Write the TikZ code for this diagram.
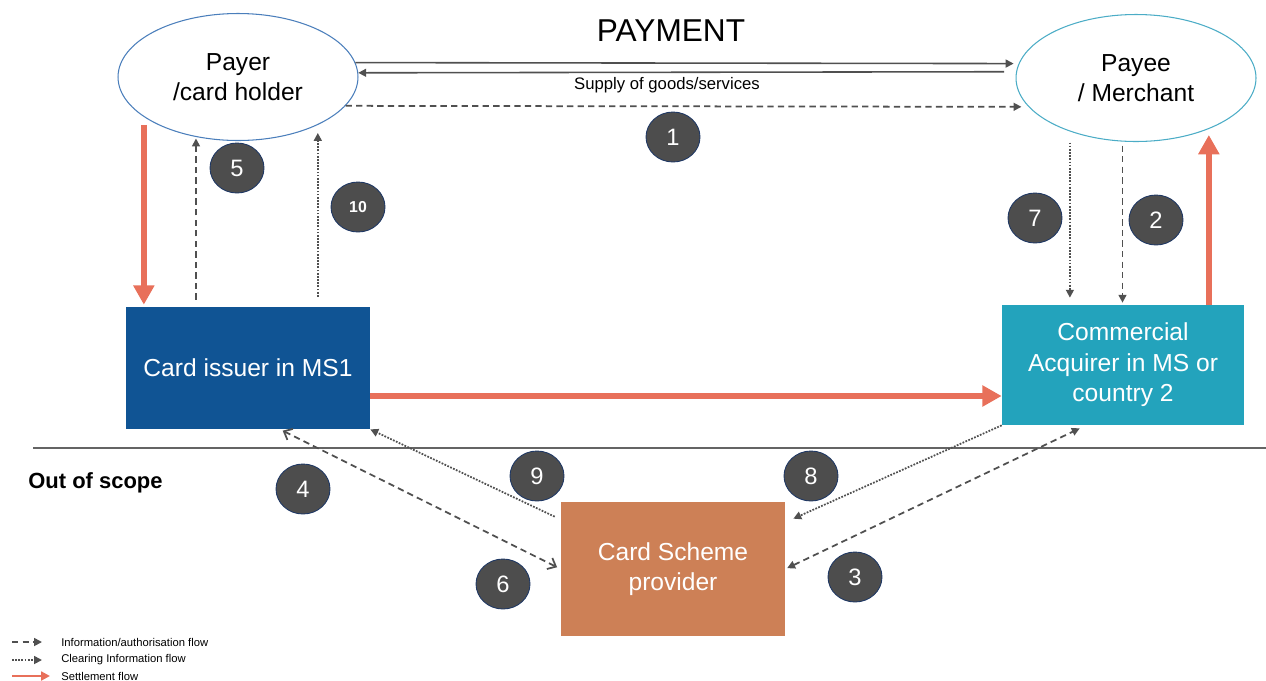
\documentclass[tikz,border=0pt]{standalone}
\usepackage{fontspec}
\setmainfont{Liberation Sans}
\usepackage{tikz}
\usetikzlibrary{shapes, arrows.meta, positioning}
\definecolor{payerblue}{RGB}{74,126,187}
\definecolor{payeecyan}{RGB}{75,172,198}
\definecolor{issuerblue}{RGB}{16,84,148}
\definecolor{acqcyan}{RGB}{35,163,188}
\definecolor{schemebrown}{RGB}{205,128,86}
\definecolor{settlered}{RGB}{232,112,90}
\definecolor{flowgrey}{RGB}{80,80,80}
\definecolor{stepgrey}{RGB}{77,77,77}
\definecolor{stepnavy}{RGB}{31,56,100}
\definecolor{sepgrey}{RGB}{100,100,100}
\tikzstyle{party} = [ellipse, draw, line width=0.6pt, minimum width=4.8cm, minimum height=2.54cm, inner sep=0pt, align=center, font=\fontsize{14}{17.4}\selectfont]
\tikzstyle{actor} = [rectangle, text=white, align=center, inner sep=0pt, font=\fontsize{14}{17.4}\selectfont]
\tikzstyle{stepnode} = [ellipse, fill=stepgrey, draw=stepnavy, line width=0.5pt, minimum width=1.08cm, minimum height=1cm, inner sep=0pt, text=white, font=\fontsize{13.5}{15}\selectfont]
\tikzstyle{legend} = [anchor=west, inner sep=0pt, font=\fontsize{6.4}{7.5}\selectfont]
\tikzstyle{pay} = [draw=flowgrey, line width=0.9pt, -{Triangle[length=4.5pt, width=4.5pt]}]
\tikzstyle{info} = [draw=flowgrey, line width=1pt, dash pattern=on 3.6pt off 2.4pt, -{Triangle[length=4.5pt, width=4.5pt]}]
\tikzstyle{clearing} = [draw=flowgrey, line width=1pt, dash pattern=on 1pt off 0.8pt, -{Triangle[length=4.5pt, width=4.5pt]}]
\tikzstyle{settle} = [draw=settlered, line width=3.8pt, -{Triangle[length=11pt, width=11.5pt]}]
\begin{document}
\begin{tikzpicture}[x=0.02cm, y=-0.02cm]
				\useasboundingbox (0,0) rectangle (1266,680);
				\node [party, draw=payerblue] (payer) at (238,77) {Payer\\/card holder};
				\node [party, draw=payeecyan] (payee) at (1136,78) {Payee\\/ Merchant};
				\node [font=\fontsize{18}{20}\selectfont] (title) at (671,31) {PAYMENT};
				\node [font=\fontsize{9.5}{11}\selectfont] (supply) at (667,85) {Supply of goods/services};
				\node [actor, fill=issuerblue, minimum width=4.88cm, minimum height=2.44cm] (issuer) at (248,368) {Card issuer in MS1};
				\node [actor, fill=acqcyan, minimum width=4.84cm, minimum height=2.4cm] (acquirer) at (1123,365) {Commercial\\Acquirer in MS or\\country 2};
				\node [actor, fill=schemebrown, minimum width=4.48cm, minimum height=2.68cm] (scheme) at (673,569) {Card Scheme\\provider};
				\node [anchor=west, inner sep=0pt, font=\bfseries\fontsize{12.5}{15}\selectfont] (scope) at (28,483) {Out of scope};
		
				\node [stepnode] (n1) at (673,137) {1};
				\node [stepnode] (n2) at (1156,220) {2};
				\node [stepnode] (n3) at (855,577) {3};
				\node [stepnode] (n4) at (303,489) {4};
				\node [stepnode] (n5) at (237,168) {5};
				\node [stepnode] (n6) at (503,584) {6};
				\node [stepnode] (n7) at (1035,218) {7};
				\node [stepnode] (n8) at (811,476) {8};
				\node [stepnode] (n9) at (537,476) {9};
				\node [stepnode, font=\bfseries\fontsize{9}{11}\selectfont] (n10) at (358,207) {10};
		
				\node [legend] (leg1) at (61,642) {Information/authorisation flow};
				\node [legend] (leg2) at (61,660) {Clearing Information flow};
				\node [legend] (leg3) at (61,676) {Settlement flow};
				\coordinate (l1) at (12,642);
				\coordinate (l2) at (12,660);
				\coordinate (l3) at (12,676);
		
				\draw [draw=sepgrey, line width=0.9pt] (33,448) -- (1266,448);
		
				\path [pay, shorten >=0.1cm] (payer.7) -- (payee.173);
				\path [pay, shorten <=0.24cm] (payee.177) -- (payer.2);
				\path [info, shorten >=0.14cm] (payer.-15) -- (payee.-165);
				\path [settle, shorten <=0.16cm, shorten >=0.04cm] (payer.203) -- (payer.203 |- issuer.north);
				\path [info, shorten <=0.14cm, shorten >=0.03cm] (payer.235 |- issuer.north) -- (payer.235);
				\path [clearing, shorten <=0.2cm, shorten >=0.16cm] (payer.-31 |- issuer.north) -- (payer.-31);
				\path [settle] ([yshift=-0.56cm]issuer.east) -- ([yshift=-0.56cm]issuer.east -| acquirer.west);
				\path [clearing, shorten <=0.22cm, shorten >=0.14cm] (payee.219) -- (payee.219 |- acquirer.north);
				\path [info, shorten <=0.08cm, shorten >=0.04cm] (payee.258) -- (payee.258 |- acquirer.north);
				\path [settle, shorten >=0.12cm] (payee.-35 |- acquirer.north) -- (payee.-35);
				\path [clearing] (acquirer.south west) -- ([xshift=0.16cm, yshift=-0.34cm]scheme.north east);
				\path [info, arrows={Triangle[length=4.5pt, width=4.5pt]-Triangle[length=4.5pt, width=4.5pt]}, shorten <=0.04cm, shorten >=0.14cm] (scheme.east) -- ([xshift=-0.74cm]acquirer.south);
				\path [clearing] ([xshift=-0.12cm, yshift=-0.3cm]scheme.north west) -- (issuer.south east);
				\path [info, arrows={Straight Barb[length=4pt, width=7pt]-Straight Barb[length=4pt, width=7pt]}, shorten <=0.06cm, shorten >=0.08cm] ([xshift=0.64cm]issuer.south) -- (scheme.west);
		
				\path [info, shorten >=0.38cm] (l1) -- (l1 -| leg1.west);
				\path [clearing, shorten >=0.38cm] (l2) -- (l2 -| leg2.west);
				\path [settle, line width=1.5pt, -{Triangle[length=5pt, width=5pt]}, shorten >=0.22cm] (l3) -- (l3 -| leg3.west);
			\end{tikzpicture}
\end{document}
